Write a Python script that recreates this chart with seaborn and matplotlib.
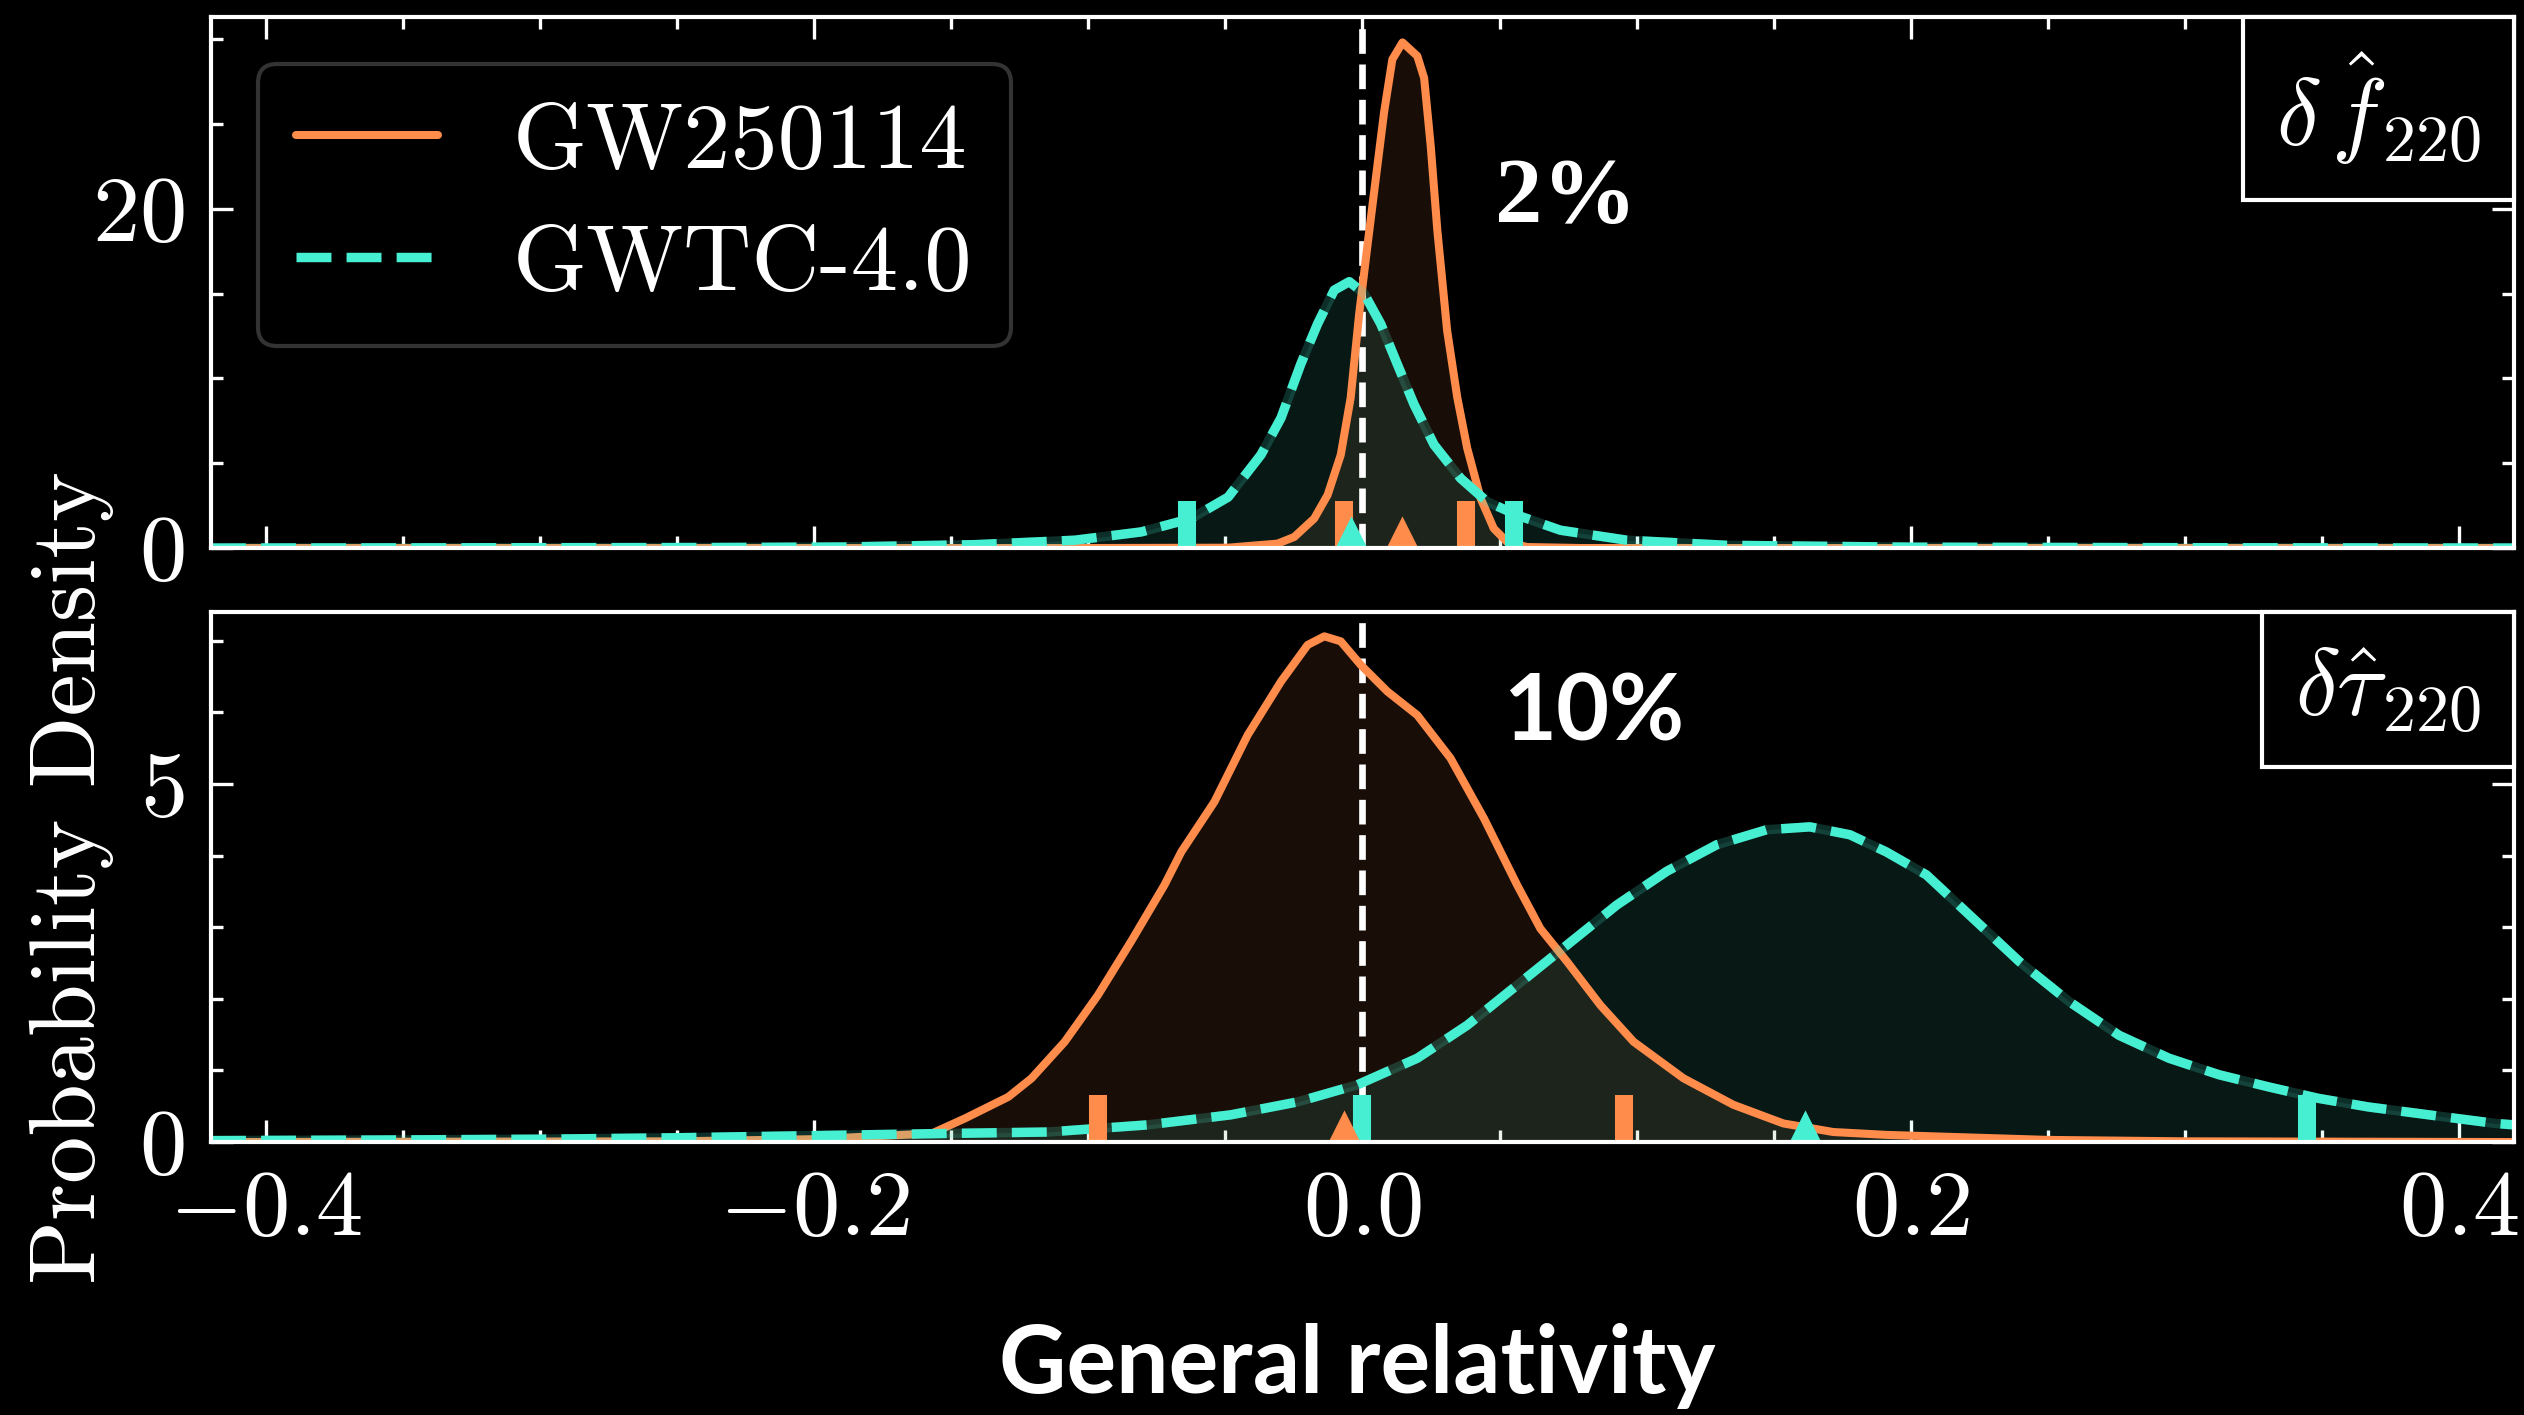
import numpy as np
import seaborn as sns
import matplotlib.pyplot as plt
from matplotlib import font_manager
from matplotlib.ticker import MultipleLocator
from matplotlib.offsetbox import AnchoredText

# ---- data ----
# top panel: delta f_220
f_gw_x = [-0.42, -0.1, -0.049, -0.031, -0.0249, -0.0176, -0.0127, -0.0079, -0.0043, -0.0012,
          0.0018, 0.0048, 0.0079, 0.0109, 0.0146, 0.020, 0.0225, 0.0249, 0.0273, 0.0309,
          0.0346, 0.0382, 0.0431, 0.0479, 0.0528, 0.060, 0.08, 0.42]
f_gw_y = [0.0, 0.0, 0.02, 0.26, 0.65, 1.74, 3.13, 5.5, 8.86, 13.8,
          17.8, 21.7, 25.7, 28.8, 29.8, 29.0, 27.7, 23.7, 18.75, 12.8,
          8.86, 5.89, 2.93, 1.15, 0.36, 0.06, 0.0, 0.0]
f_gwtc_x = [-0.42, -0.3, -0.238, -0.19, -0.141, -0.105, -0.0807, -0.0625, -0.049, -0.037,
            -0.0297, -0.0225, -0.0164, -0.0103, -0.0048, 0.0006, 0.0067, 0.0127, 0.0188, 0.0261,
            0.0358, 0.0455, 0.0564, 0.0722, 0.0965, 0.133, 0.2, 0.3, 0.42]
f_gwtc_y = [0.0, 0.02, 0.03, 0.06, 0.2, 0.46, 0.95, 1.74, 3.0, 5.5,
            7.67, 10.84, 13.2, 15.2, 15.7, 15.0, 13.2, 10.84, 8.47, 6.09,
            4.11, 2.73, 1.94, 1.05, 0.46, 0.16, 0.05, 0.02, 0.0]

# bottom panel: delta tau_220
t_gw_x = [-0.42, -0.25, -0.2, -0.1571, -0.145, -0.1292, -0.1207, -0.1086, -0.0965, -0.0844,
          -0.0722, -0.0661, -0.054, -0.0419, -0.0297, -0.02, -0.0139, -0.0079, -0.0006, 0.0091,
          0.02, 0.0321, 0.0443, 0.0564, 0.0649, 0.0746, 0.0868, 0.0989, 0.1171, 0.1353,
          0.1535, 0.1717, 0.1911, 0.25, 0.3, 0.42]
t_gw_y = [0.0, 0.01, 0.04, 0.12, 0.33, 0.63, 0.89, 1.40, 2.05, 2.80,
          3.59, 4.05, 4.75, 5.68, 6.43, 6.94, 7.06, 6.99, 6.66, 6.29,
          5.96, 5.36, 4.52, 3.59, 2.98, 2.52, 1.91, 1.40, 0.89, 0.52,
          0.26, 0.14, 0.10, 0.03, 0.01, 0.0]
t_gwtc_x = [-0.42, -0.35, -0.3, -0.25, -0.2, -0.1511, -0.1147, -0.0783, -0.048, -0.0237,
            -0.0018, 0.02, 0.0382, 0.0564, 0.0746, 0.0928, 0.111, 0.1292, 0.1474, 0.1632,
            0.1778, 0.1911, 0.2057, 0.2214, 0.2396, 0.2578, 0.276, 0.2942, 0.3124, 0.3305,
            0.3487, 0.3669, 0.3889, 0.4132, 0.42]
t_gwtc_y = [0.02, 0.03, 0.04, 0.06, 0.09, 0.12, 0.14, 0.24, 0.38, 0.56,
            0.80, 1.17, 1.63, 2.19, 2.75, 3.31, 3.78, 4.15, 4.36, 4.40,
            4.29, 4.05, 3.73, 3.17, 2.52, 1.96, 1.49, 1.17, 0.94, 0.77,
            0.61, 0.49, 0.38, 0.26, 0.24]

# 90% bounds (bars) and medians (triangles)
f_gw_bounds = [-0.0067, 0.0376]
f_gw_median = [0.0146]
f_gwtc_bounds = [-0.064, 0.0552]
f_gwtc_median = [-0.0043]
t_gw_bounds = [-0.0965, 0.0953]
t_gw_median = [-0.0067]
t_gwtc_bounds = [0.0, 0.3446]
t_gwtc_median = [0.1614]

labels = ['GW250114', 'GWTC-4.0']
panel_names = [r'$\delta\,\hat{f}_{220}$', r'$\delta\hat{\tau}_{220}$']
percent_text = ['2%', '10%']

ORANGE = '#FF8C4B'
TURQ = '#46EFD2'

sns.set_theme(style='ticks', rc={
    'figure.facecolor': 'black', 'axes.facecolor': 'black', 'savefig.facecolor': 'black',
    'axes.edgecolor': 'white', 'text.color': 'white', 'axes.labelcolor': 'white',
    'xtick.color': 'white', 'ytick.color': 'white', 'axes.linewidth': 1.5,
})
plt.rcParams['font.family'] = ['cmr10', 'DejaVu Serif']
plt.rcParams['mathtext.fontset'] = 'cm'
plt.rcParams['axes.formatter.use_mathtext'] = True

# bold serif for the "2%" annotation
serif_bold_path = font_manager.findfont(
    font_manager.FontProperties(family='Liberation Serif', weight='bold'))
serif_bold = font_manager.FontProperties(fname=serif_bold_path, size=34)

fig = plt.figure(figsize=(12.62, 7.075), dpi=200)
ax_top = fig.add_axes([0.0836, 0.6127, 0.9124, 0.3753])
ax_bot = fig.add_axes([0.0836, 0.1929, 0.9124, 0.3746])

panels = [
    (ax_top, f_gw_x, f_gw_y, f_gwtc_x, f_gwtc_y, f_gw_bounds, f_gw_median, f_gwtc_bounds, f_gwtc_median),
    (ax_bot, t_gw_x, t_gw_y, t_gwtc_x, t_gwtc_y, t_gw_bounds, t_gw_median, t_gwtc_bounds, t_gwtc_median),
]

for ax, gx, gy, cx, cy, gb, gm, cb, cm in panels:
    ax.fill_between(gx, gy, color=ORANGE, alpha=0.1, lw=0)
    ax.fill_between(cx, cy, color=TURQ, alpha=0.1, lw=0)
    ax.axvline(0, color='white', lw=2.4, ls='--', zorder=1.5)
    sns.lineplot(x=gx, y=gy, ax=ax, color=ORANGE, lw=2.9, sort=False, estimator=None, label=labels[0])
    sns.lineplot(x=cx, y=cy, ax=ax, color=TURQ, lw=3.4, alpha=0.2, sort=False, estimator=None)
    sns.lineplot(x=cx, y=cy, ax=ax, color=TURQ, lw=3.4, ls='--', sort=False, estimator=None, label=labels[1])

    trans = ax.get_xaxis_transform()
    ax.vlines(gb, 0, 0.088, transform=trans, color=ORANGE, lw=6.5, zorder=4)
    ax.vlines(cb, 0, 0.088, transform=trans, color=TURQ, lw=6.5, zorder=4)
    ax.plot(gm, [0.027], transform=trans, marker='^', ms=10.5, color=ORANGE, ls='none', zorder=5)
    ax.plot(cm, [0.027], transform=trans, marker='^', ms=10.5, color=TURQ, ls='none', zorder=5)

    ax.set_xlim(-0.42, 0.42)
    ax.xaxis.set_major_locator(MultipleLocator(0.2))
    ax.xaxis.set_minor_locator(MultipleLocator(0.05))
    ax.tick_params(which='both', direction='in', width=1.2, right=True, labelsize=34)
    ax.tick_params(which='major', length=8)
    ax.tick_params(which='minor', length=4.3)
    ax.tick_params(axis='x', pad=10)
    ax.tick_params(axis='y', pad=9.5)
    for s in ax.spines.values():
        s.set_zorder(6)

ax_top.set_ylim(0, 31.3)
ax_top.yaxis.set_major_locator(MultipleLocator(20))
ax_top.yaxis.set_minor_locator(MultipleLocator(5))
ax_top.tick_params(which='both', top=True, labelbottom=False)

ax_bot.set_ylim(0, 7.4)
ax_bot.yaxis.set_major_locator(MultipleLocator(5))
ax_bot.yaxis.set_minor_locator(MultipleLocator(1))
ax_bot.tick_params(which='both', top=False)

ax_bot.get_legend().remove()
leg = ax_top.legend(loc='upper left', fontsize=34, frameon=True, facecolor='black',
                    edgecolor='#333333', framealpha=1, handlelength=1.5, handletextpad=0.8,
                    borderpad=0.4, labelspacing=0.4)
leg.get_frame().set_linewidth(1.5)
for t in leg.get_texts():
    t.set_color('white')

for ax, name in zip([ax_top, ax_bot], panel_names):
    at = AnchoredText(name, loc='upper right', frameon=True, pad=0.35, borderpad=0,
                      prop=dict(size=34, color='white'))
    at.patch.set_facecolor('black')
    at.patch.set_edgecolor('white')
    at.patch.set_linewidth(1.5)
    at.set_zorder(7)
    ax.add_artist(at)

fig.text(0.6205, 0.8587, percent_text[0], ha='center', va='center',
         fontproperties=serif_bold, color='white')
fig.text(0.6312, 0.4947, percent_text[1], ha='center', va='center', fontsize=33,
         fontweight='bold', family=['Lato', 'DejaVu Sans'], color='white')
fig.text(0.0285, 0.380, 'Probability Density', rotation=90, ha='center', va='center',
         fontsize=34, color='white')
fig.text(0.5376, 0.0155, 'General relativity', ha='center', va='baseline', fontsize=33.5,
         fontweight='bold', family=['Lato', 'DejaVu Sans'], color='white')

fig.savefig('out.png', dpi=200, facecolor='black')
